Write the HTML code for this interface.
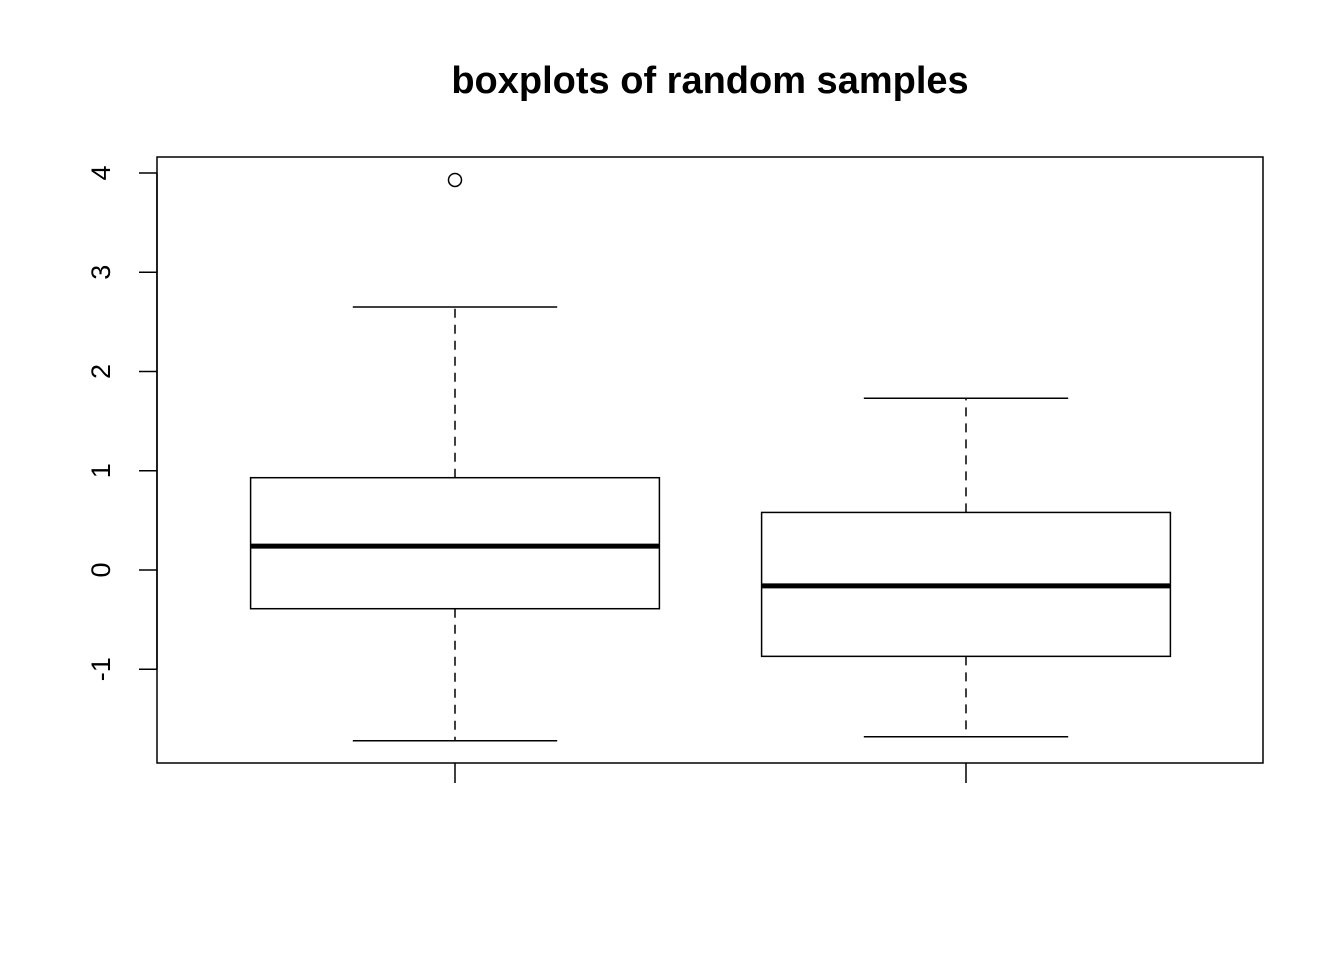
<!DOCTYPE html>
<html><head><meta charset="utf-8"><style>
html,body{margin:0;padding:0;background:#fff;}
svg text{font-family:"Liberation Sans",Arial,sans-serif;}
</style></head><body>
<svg id="chart" width="1344" height="960" xmlns="http://www.w3.org/2000/svg">
<rect width="1344" height="960" fill="#fff"/>
<text x="710" y="93" text-anchor="middle" font-size="38" font-weight="bold">boxplots of random samples</text>
<rect x="157" y="157" width="1106" height="606" fill="none" stroke="#000" stroke-width="1.5"/>
<g id="yaxis"></g>
<g id="xaxis"></g>
<g id="boxes"></g>
</svg>
<script>
const categories = ["sample-1", "sample-2"];
const lowerWhisker = [-1.72, -1.68];
const q1 = [-0.39, -0.87];
const medians = [0.24, -0.16];
const q3 = [0.93, 0.58];
const upperWhisker = [2.65, 1.73];
const outliers = [[3.93], []];
const yTicks = [-1, 0, 1, 2, 3, 4];

const NS = "http://www.w3.org/2000/svg";
function y(v){ return 570 - v * 99.25; }
function x(i){ return 455 + i * 511; }
function mk(tag, attrs, parent){
  const e = document.createElementNS(NS, tag);
  for (const k in attrs) e.setAttribute(k, attrs[k]);
  parent.appendChild(e);
  return e;
}
const ya = document.getElementById('yaxis');
let l = mk('line', {x1:157, x2:157, y1:y(yTicks[0]), y2:y(yTicks[yTicks.length-1]), stroke:'#000', 'stroke-width':1.5}, ya);


yTicks.forEach(t => {
  const tk = mk('line', {x1:139, x2:157, y1:y(t), y2:y(t), stroke:'#000', 'stroke-width':1.5}, ya);
  
  
  const tx = mk('text', {x:0, y:0, 'font-size':27, 'text-anchor':'middle', transform:`translate(110,${y(t)}) rotate(-90)`}, ya);
  tx.textContent = String(t);
  
  
});
const xa = document.getElementById('xaxis');
categories.forEach((c, i) => {
  const tk = mk('line', {x1:x(i), x2:x(i), y1:763, y2:783, stroke:'#000', 'stroke-width':1.5}, xa);
  
  
});
const bx = document.getElementById('boxes');
const hw = 0.4 * 511, cw = 0.2 * 511;
categories.forEach((c, i) => {
  const g = mk('g', {}, bx);
  
  
  const cx = x(i);
  const w1 = mk('line', {x1:cx, x2:cx, y1:y(q3[i]), y2:y(upperWhisker[i]), stroke:'#000', 'stroke-width':1.5, 'stroke-dasharray':'9,7'}, g);
  
  
  const w2 = mk('line', {x1:cx, x2:cx, y1:y(q1[i]), y2:y(lowerWhisker[i]), stroke:'#000', 'stroke-width':1.5, 'stroke-dasharray':'9,7'}, g);
  
  
  const c1 = mk('line', {x1:cx-cw, x2:cx+cw, y1:y(upperWhisker[i]), y2:y(upperWhisker[i]), stroke:'#000', 'stroke-width':1.5}, g);
  
  
  const c2 = mk('line', {x1:cx-cw, x2:cx+cw, y1:y(lowerWhisker[i]), y2:y(lowerWhisker[i]), stroke:'#000', 'stroke-width':1.5}, g);
  
  
  const r = mk('rect', {x:cx-hw, y:y(q3[i]), width:2*hw, height:y(q1[i])-y(q3[i]), fill:'#fff', stroke:'#000', 'stroke-width':1.5}, g);
  
  
  const m = mk('line', {x1:cx-hw, x2:cx+hw, y1:y(medians[i]), y2:y(medians[i]), stroke:'#000', 'stroke-width':5}, g);
  
  
  outliers[i].forEach(o => {
    const p = mk('circle', {cx:cx, cy:y(o), r:6.5, fill:'none', stroke:'#000', 'stroke-width':1.5}, g);
    
    
  });
});
</script>
</body></html>
